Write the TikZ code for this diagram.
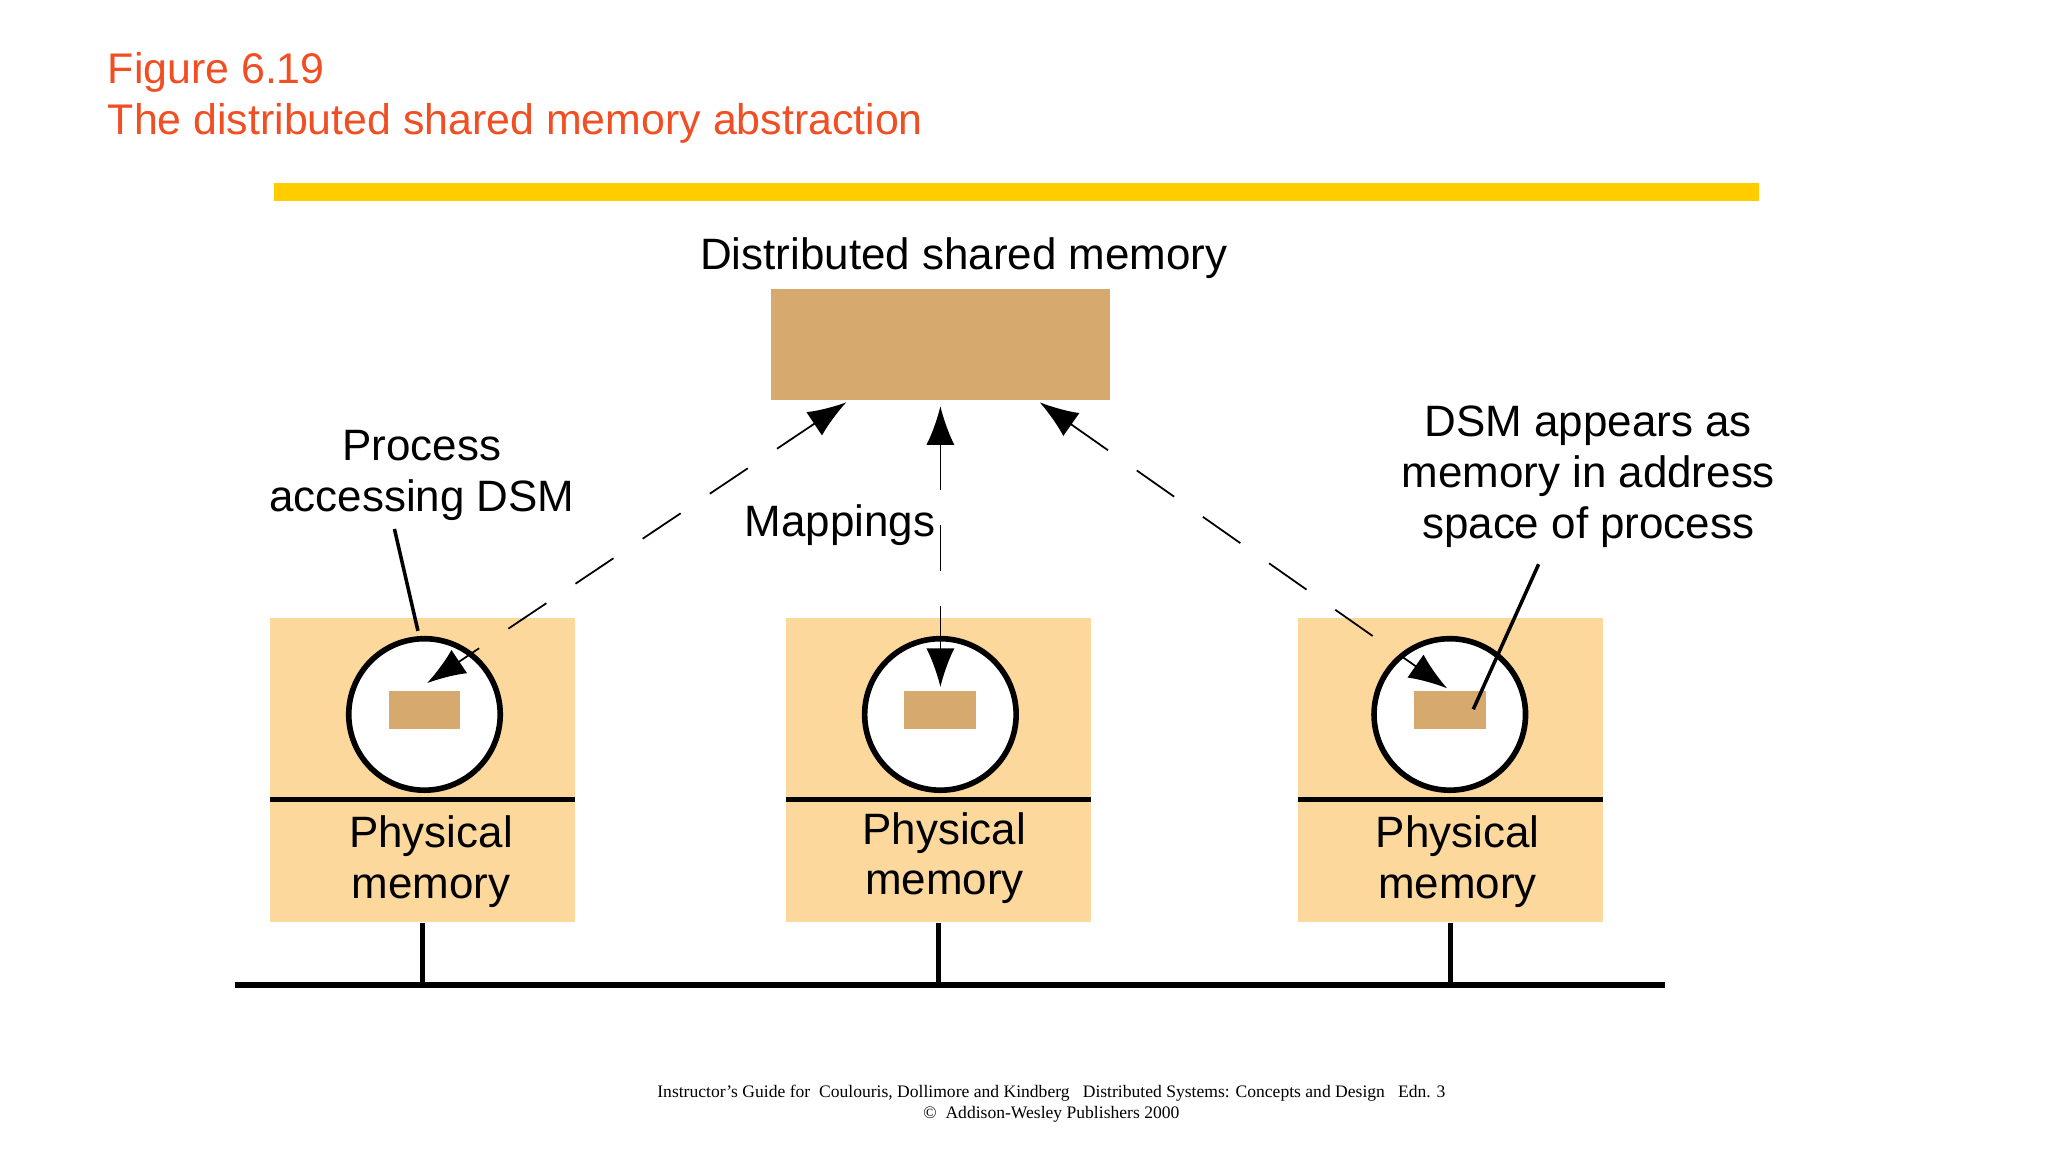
\documentclass[tikz,border=0pt]{standalone}
\usepackage{fontspec}
\setmainfont{Liberation Sans}
\newfontfamily\footfont{Liberation Serif}
\usetikzlibrary{arrows.meta}
\definecolor{titlered}{HTML}{F04E23}
\definecolor{baryellow}{HTML}{FFCC00}
\definecolor{dsmtan}{HTML}{D6A96E}
\definecolor{boxpale}{HTML}{FCD89C}
\tikzset{
  lbl/.style={font=\fontsize{12.5}{14.5}\selectfont, align=center, inner sep=0pt},
  pbox/.style={fill=boxpale, draw=none, minimum width=233*0.013061cm, minimum height=233*0.013061cm, inner sep=0pt},
  proc/.style={circle, draw, line width=1.6pt, fill=white, minimum size=116*0.013061cm, inner sep=0pt},
  page/.style={fill=dsmtan, minimum width=55*0.013061cm, minimum height=29*0.013061cm, inner sep=0pt},
  map/.style={dash pattern=on 13pt off 10pt, line width=0.5pt, {Latex[length=11pt,width=8pt]}-{Latex[length=11pt,width=8pt]}},
  thick line/.style={line width=1.6pt},
}
\begin{document}
\begin{tikzpicture}[x=0.013061cm, y=-0.013061cm]
\useasboundingbox (0,0) rectangle (1568,882);
% title
\node[anchor=base west, inner sep=0pt, text=titlered, font=\fontsize{12.2}{14.5}\selectfont] (t1) at (82,64) {Figure 6.19};
\node[anchor=base west, inner sep=0pt, text=titlered, font=\fontsize{12.2}{14.5}\selectfont] (t2) at (82,103) {The distributed shared memory abstraction};
\fill[baryellow] (210,140) rectangle (1347,154);
% DSM
\node[lbl, anchor=base] (dsml) at (738,206) {Distributed shared memory};
\node[fill=dsmtan, minimum width=260*0.013061cm, minimum height=85*0.013061cm, inner sep=0pt] (dsm) at (720,263.5) {};
% bus
\coordinate (busl) at (180,754);
\coordinate (busr) at (1275,754);
\draw[thick line] (busl) -- (busr);
% process boxes
\foreach \n/\x/\px in {a/323/325, b/718/720, c/1110/1110}{
  \node[pbox] (box\n) at (\x+0.5,589.5) {};
  \draw[thick line] (box\n.west |- 0,612) -- (box\n.east |- 0,612);
  \node[proc] (c\n) at (\px,547) {};
  \node[page] (p\n) at (\px,543.5) {};
  \draw[thick line] (box\n.south) -- (box\n.south |- busl);
}
\node[lbl] (pma) at (330,660) {Physical\\memory};
\node[lbl] (pmb) at (723,657) {Physical\\memory};
\node[lbl] (pmc) at (1116,660) {Physical\\memory};
% mappings
\coordinate (ma1) at (648,308); \coordinate (ma2) at (327,523);
\coordinate (mb1) at (720,311); \coordinate (mb2) at (720,526);
\coordinate (mc1) at (796,308); \coordinate (mc2) at (1108,527);
\draw[map] (ma1) -- (ma2);
\draw[map] (mb1) -- (mb2);
\draw[map] (mc1) -- (mc2);
\node[lbl] (mapl) at (643,402) {Mappings};
% annotations
\node[lbl] (procl) at (323,364) {Process\\accessing DSM};
\coordinate (pl1) at (302,405); \coordinate (pl2) at (320,483);
\draw[line width=1pt] (pl1) -- (pl2);
\node[lbl] (dsmap) at (1216,365) {DSM appears as\\memory in address\\space of process};
\coordinate (dl1) at (1178,432); \coordinate (dl2) at (1128,543);
\draw[line width=1pt] (dl1) -- (dl2);
% footer
\node[align=center, inner sep=0pt, font=\footfont\fontsize{5}{6}\selectfont] (foot) at (805,845) {Instructor’s Guide for\ \ Coulouris, Dollimore and Kindberg\ \ \ Distributed Systems: Concepts and Design\ \ \ Edn. 3\\©\ \ Addison-Wesley Publishers 2000};
\end{tikzpicture}
\end{document}
